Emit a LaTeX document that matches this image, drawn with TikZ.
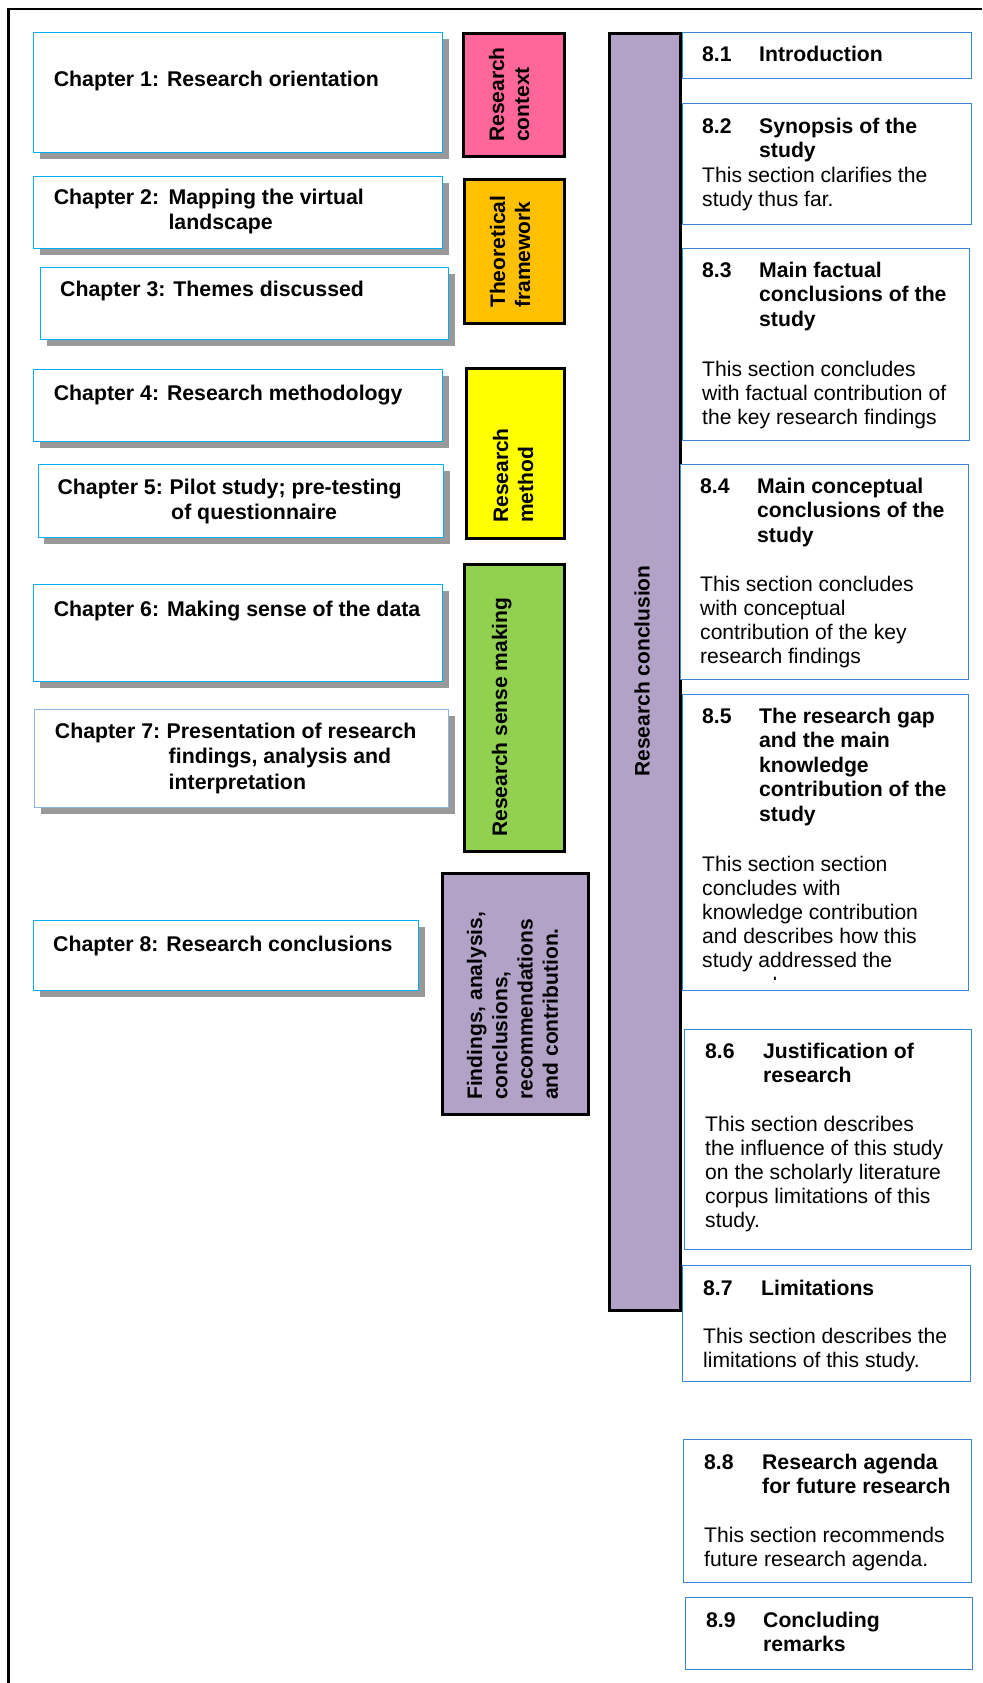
\documentclass[tikz,border=0pt]{standalone}
\usepackage{fontspec}
\setmainfont{Liberation Sans}
\usetikzlibrary{shadows}

\definecolor{chapblue}{HTML}{00B0F0}
\definecolor{chapblueb}{HTML}{8DB4E2}
\definecolor{secblue}{HTML}{3A86D0}
\definecolor{shgray}{HTML}{999999}
\definecolor{ctxpink}{HTML}{FF6699}
\definecolor{thorange}{HTML}{FFC000}
\definecolor{methyellow}{HTML}{FFFF00}
\definecolor{sensegreen}{HTML}{92D050}
\definecolor{concllav}{HTML}{B3A2C7}

\tikzset{
  chapbox/.style={draw=chapblue, line width=1.4pt, fill=white, inner sep=0pt,
    anchor=north west,
    drop shadow={shadow xshift=6pt, shadow yshift=-6pt, opacity=1, fill=shgray}},
  tagbox/.style={draw=black, line width=2.6pt, inner sep=0pt, anchor=north west},
  secbox/.style={draw=secblue, line width=1.3pt, fill=white, inner sep=0pt, anchor=north west},
  chaptext/.style={anchor=base west, inner sep=0pt, font=\bfseries\fontsize{21.3}{25.5}\selectfont},
  headtext/.style={anchor=base west, inner sep=0pt, font=\bfseries\fontsize{21.2}{24.5}\selectfont},
  bodytext/.style={anchor=base west, inner sep=0pt, font=\fontsize{21.1}{24.2}\selectfont},
  vtext/.style={anchor=base west, inner sep=0pt, rotate=90, font=\bfseries\fontsize{21}{25}\selectfont},
}
\newcommand\numcol[1]{\makebox[57pt][l]{#1}}

\begin{document}
\begin{tikzpicture}[x=1pt,y=-1pt]
\useasboundingbox (0,0) rectangle (982,1683);

% outer frame
\draw[line width=2.5pt] (8.4,1683) -- (8.4,9) -- (982,9);

% ---------- chapter boxes ----------
\node[chapbox, minimum width=409pt, minimum height=120pt] (c1) at (33,32) {};
\node[chapbox, minimum width=409pt, minimum height=72pt] (c2) at (33,176) {};
\node[chapbox, minimum width=408pt, minimum height=72pt] (c3) at (40,267) {};
\node[chapbox, minimum width=409pt, minimum height=72pt] (c4) at (33,369) {};
\node[chapbox, minimum width=405.5pt, minimum height=73pt] (c5) at (37.5,464) {};
\node[chapbox, minimum width=409pt, minimum height=97pt] (c6) at (33,584) {};
\node[chapbox, draw=chapblueb, line width=1pt, minimum width=414pt, minimum height=98pt] (c7) at (34.4,709) {};
\node[chapbox, minimum width=385pt, minimum height=70pt] (c8) at (33,920) {};

\node[chaptext] (t1) at (53.6,87) {Chapter 1: Research orientation};
\node[chaptext] (t2) at (53.6,204) {\begin{tabular}[t]{@{}l@{\hspace{9.4pt}}l@{}}Chapter 2: & Mapping the virtual\\ & landscape\end{tabular}};
\node[chaptext] (t3) at (60,296) {Chapter 3: Themes discussed};
\node[chaptext] (t4) at (53.6,400) {Chapter 4: Research methodology};
\node[chaptext] (t5) at (57.4,494) {\begin{tabular}[t]{@{}l@{\hspace{6.8pt}}l@{}}Chapter 5: & Pilot study; pre-testing\\ & \hspace{1.5pt}of questionnaire\end{tabular}};
\node[chaptext] (t6) at (53.6,616) {Chapter 6: Making sense of the data};
\node[chaptext] (t7) at (54.7,738) {\begin{tabular}[t]{@{}l@{\hspace{6.5pt}}l@{}}Chapter 7: & Presentation of research\\ & \hspace{2pt}findings, analysis and\\ & \hspace{2pt}interpretation\end{tabular}};
\node[chaptext] (t8) at (53,951) {Chapter 8: Research conclusions};

% ---------- coloured phase boxes ----------
\node[tagbox, fill=ctxpink, minimum width=101pt, minimum height=123pt] (p1) at (462,32) {};
\node[tagbox, fill=thorange, minimum width=100pt, minimum height=144pt] (p2) at (463,178) {};
\node[tagbox, fill=methyellow, minimum width=98pt, minimum height=170pt] (p3) at (465,367) {};
\node[tagbox, fill=sensegreen, minimum width=100pt, minimum height=287pt] (p4) at (463,563) {};
\node[tagbox, fill=concllav, minimum width=146pt, minimum height=241pt] (p5) at (441,872) {};
\node[tagbox, fill=concllav, minimum width=71pt, minimum height=1277pt] (bar) at (608,32) {};

\node[vtext] (l1) at (504,142) {\begin{tabular}[t]{@{}l@{}}Research\\context\end{tabular}};
\node[vtext] (l2) at (505,308) {\begin{tabular}[t]{@{}l@{}}Theoretical\\framework\end{tabular}};
\node[vtext] (l3) at (508,523) {\begin{tabular}[t]{@{}l@{}}Research\\method\end{tabular}};
\node[vtext] (l4) at (507,837) {Research sense making};
\node[vtext, font=\bfseries\fontsize{21}{25.3}\selectfont] (l5) at (482,1100) {\begin{tabular}[t]{@{}l@{}}Findings, analysis,\\conclusions,\\recommendations\\and contribution.\end{tabular}};
\node[rotate=90, inner sep=0pt, font=\bfseries\fontsize{21}{22}\selectfont] (lbar) at (642,671) {Research conclusion};

% ---------- section boxes ----------
\node[secbox, minimum width=289pt, minimum height=46pt] (s1) at (682,32) {};
\node[secbox, minimum width=289pt, minimum height=121pt] (s2) at (682,103) {};
\node[secbox, minimum width=287pt, minimum height=192pt] (s3) at (682,248) {};
\node[secbox, minimum width=288pt, minimum height=215pt] (s4) at (680,464) {};
\node[secbox, minimum width=286pt, minimum height=296pt] (s5) at (682,694) {};
\node[secbox, minimum width=287pt, minimum height=220pt] (s6) at (684,1029) {};
\node[secbox, minimum width=288pt, minimum height=116pt] (s7) at (682,1265) {};
\node[secbox, minimum width=288pt, minimum height=143pt] (s8) at (683,1439) {};
\node[secbox, minimum width=287pt, minimum height=72pt] (s9) at (685,1597) {};

\node[headtext] (h1) at (702,62) {\numcol{8.1}Introduction};
\node[headtext] (h2) at (702,133) {\begin{tabular}[t]{@{}l@{}l@{}}\numcol{8.2} & Synopsis of the\\ & study\end{tabular}};
\node[bodytext] (b2) at (702,182) {\begin{tabular}[t]{@{}l@{}}This section clarifies the\\study thus far.\end{tabular}};

\node[headtext] (h3) at (702,277) {\begin{tabular}[t]{@{}l@{}l@{}}\numcol{8.3} & Main factual\\ & conclusions of the\\ & study\end{tabular}};
\node[bodytext] (b3) at (702,376) {\begin{tabular}[t]{@{}l@{}}This section concludes\\with factual contribution of\\the key research findings\end{tabular}};

\node[headtext] (h4) at (700,493) {\begin{tabular}[t]{@{}l@{}l@{}}\numcol{8.4} & Main conceptual\\ & conclusions of the\\ & study\end{tabular}};
\node[bodytext] (b4) at (700,591) {\begin{tabular}[t]{@{}l@{}}This section concludes\\with conceptual\\contribution of the key\\research findings\end{tabular}};

\node[headtext] (h5) at (702,723) {\begin{tabular}[t]{@{}l@{}l@{}}\numcol{8.5} & The research gap\\ & and the main\\ & knowledge\\ & contribution of the\\ & study\end{tabular}};
\begin{scope}
  % the last line of this box is cut off by the box edge
  \clip (683,695) rectangle (967,979);
  \node[bodytext] (b5) at (702,871) {\begin{tabular}[t]{@{}l@{}}This section section\\concludes with\\knowledge contribution\\and describes how this\\study addressed the\\research gap.\end{tabular}};
\end{scope}

\node[headtext] (h6) at (705,1058) {\begin{tabular}[t]{@{}l@{}l@{}}\makebox[58pt][l]{8.6} & Justification of\\ & research\end{tabular}};
\node[bodytext] (b6) at (705,1131) {\begin{tabular}[t]{@{}l@{}}This section describes\\the influence of this study\\on the scholarly literature\\corpus limitations of this\\study.\end{tabular}};

\node[headtext] (h7) at (703,1295) {\makebox[58pt][l]{8.7}Limitations};
\node[bodytext] (b7) at (703,1343) {\begin{tabular}[t]{@{}l@{}}This section describes the\\limitations of this study.\end{tabular}};

\node[headtext] (h8) at (704,1469) {\begin{tabular}[t]{@{}l@{}l@{}}\makebox[58pt][l]{8.8} & Research agenda\\ & for future research\end{tabular}};
\node[bodytext] (b8) at (704,1542) {\begin{tabular}[t]{@{}l@{}}This section recommends\\future research agenda.\end{tabular}};

\node[headtext] (h9) at (706,1627) {\begin{tabular}[t]{@{}l@{}l@{}}\numcol{8.9} & Concluding\\ & remarks\end{tabular}};
\end{tikzpicture}
\end{document}
